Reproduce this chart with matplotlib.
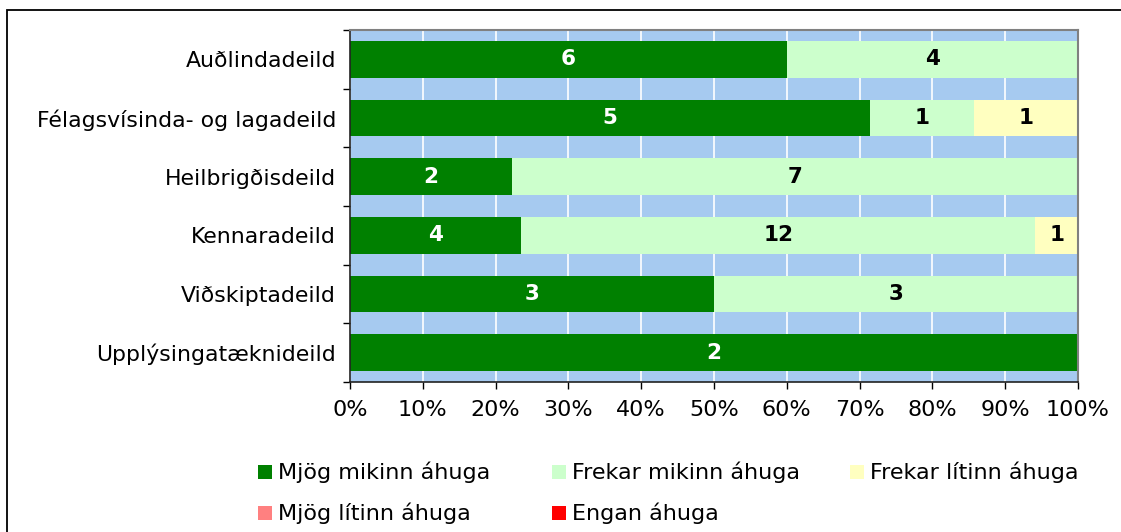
import matplotlib.pyplot as plt
import numpy as np
from matplotlib.patches import Rectangle

categories = ["Auðlindadeild", "Félagsvísinda- og lagadeild", "Heilbrigðisdeild",
              "Kennaradeild", "Viðskiptadeild", "Upplýsingatæknideild"]
series_names = ["Mjög mikinn áhuga", "Frekar mikinn áhuga", "Frekar lítinn áhuga",
                "Mjög lítinn áhuga", "Engan áhuga"]
mjog_mikinn = [6, 5, 2, 4, 3, 2]
frekar_mikinn = [4, 1, 7, 12, 3, 0]
frekar_litinn = [0, 1, 0, 1, 0, 0]
mjog_litinn = [0, 0, 0, 0, 0, 0]
engan = [0, 0, 0, 0, 0, 0]
colors = ["#008000", "#CCFFCC", "#FFFFC0", "#FF8080", "#FF0000"]
text_colors = ["white", "black", "black", "black", "black"]
xtick_labels = ["0%", "10%", "20%", "30%", "40%", "50%", "60%", "70%", "80%", "90%", "100%"]

data = np.array([mjog_mikinn, frekar_mikinn, frekar_litinn, mjog_litinn, engan], dtype=float)
totals = data.sum(axis=0)
pct = data / totals

W, H = 1121, 532
fig = plt.figure(figsize=(W / 100, H / 100), dpi=100)
fig.patches.append(Rectangle((7 / W, -0.2), 1.2, (H - 10) / H + 0.2, transform=fig.transFigure,
                             fill=False, edgecolor="black", linewidth=1.3, zorder=0))
ax = fig.add_axes([350 / W, 1 - 382 / H, (1078 - 350) / W, (382 - 30) / H])
ax.set_facecolor("#A6CAF0")

n = len(categories)
y = np.arange(n)
left = np.zeros(n)
for i in range(len(series_names)):
    ax.barh(y, pct[i], left=left, height=0.62, color=colors[i], label=series_names[i], zorder=2)
    for j in range(n):
        if data[i, j] > 0:
            ax.text(left[j] + pct[i, j] / 2, y[j], f"{int(data[i, j])}", ha="center", va="center",
                    color=text_colors[i], fontsize=15.5, fontweight="bold", zorder=3)
    left += pct[i]

ax.set_xlim(0, 1)
ax.set_ylim(n - 0.5, -0.5)
ax.set_xticks(np.linspace(0, 1, 11))
ax.set_xticklabels(xtick_labels, fontsize=16)
ax.xaxis.grid(True, color="white", linewidth=1.2, zorder=1)
ax.set_axisbelow(True)
ax.set_yticks(y)
ax.set_yticklabels(categories, fontsize=15.8)
ax.set_yticks(np.arange(n + 1) - 0.5, minor=True)
ax.tick_params(axis="y", which="major", length=0, pad=10)
ax.tick_params(axis="y", which="minor", length=5, width=1)
ax.tick_params(axis="x", length=5, width=1, pad=8)
for s in ["top", "right"]:
    ax.spines[s].set_color("#808080")
    ax.spines[s].set_linewidth(1.5)
for s in ["left", "bottom"]:
    ax.spines[s].set_color("#222222")
    ax.spines[s].set_linewidth(1.2)

# legend, laid out row by row like the reference
leg_x = [258, 552, 850, 258, 552]
leg_y = [472, 472, 472, 513, 513]
sq = 14
for i, name in enumerate(series_names):
    x0, yc = leg_x[i], leg_y[i]
    fig.patches.append(Rectangle((x0 / W, 1 - (yc + sq / 2) / H), sq / W, sq / H,
                                 transform=fig.transFigure, facecolor=colors[i],
                                 edgecolor="none"))
    fig.text((x0 + 20) / W, 1 - yc / H, name, fontsize=16, ha="left", va="center")

fig.savefig("out.png", dpi=100)
